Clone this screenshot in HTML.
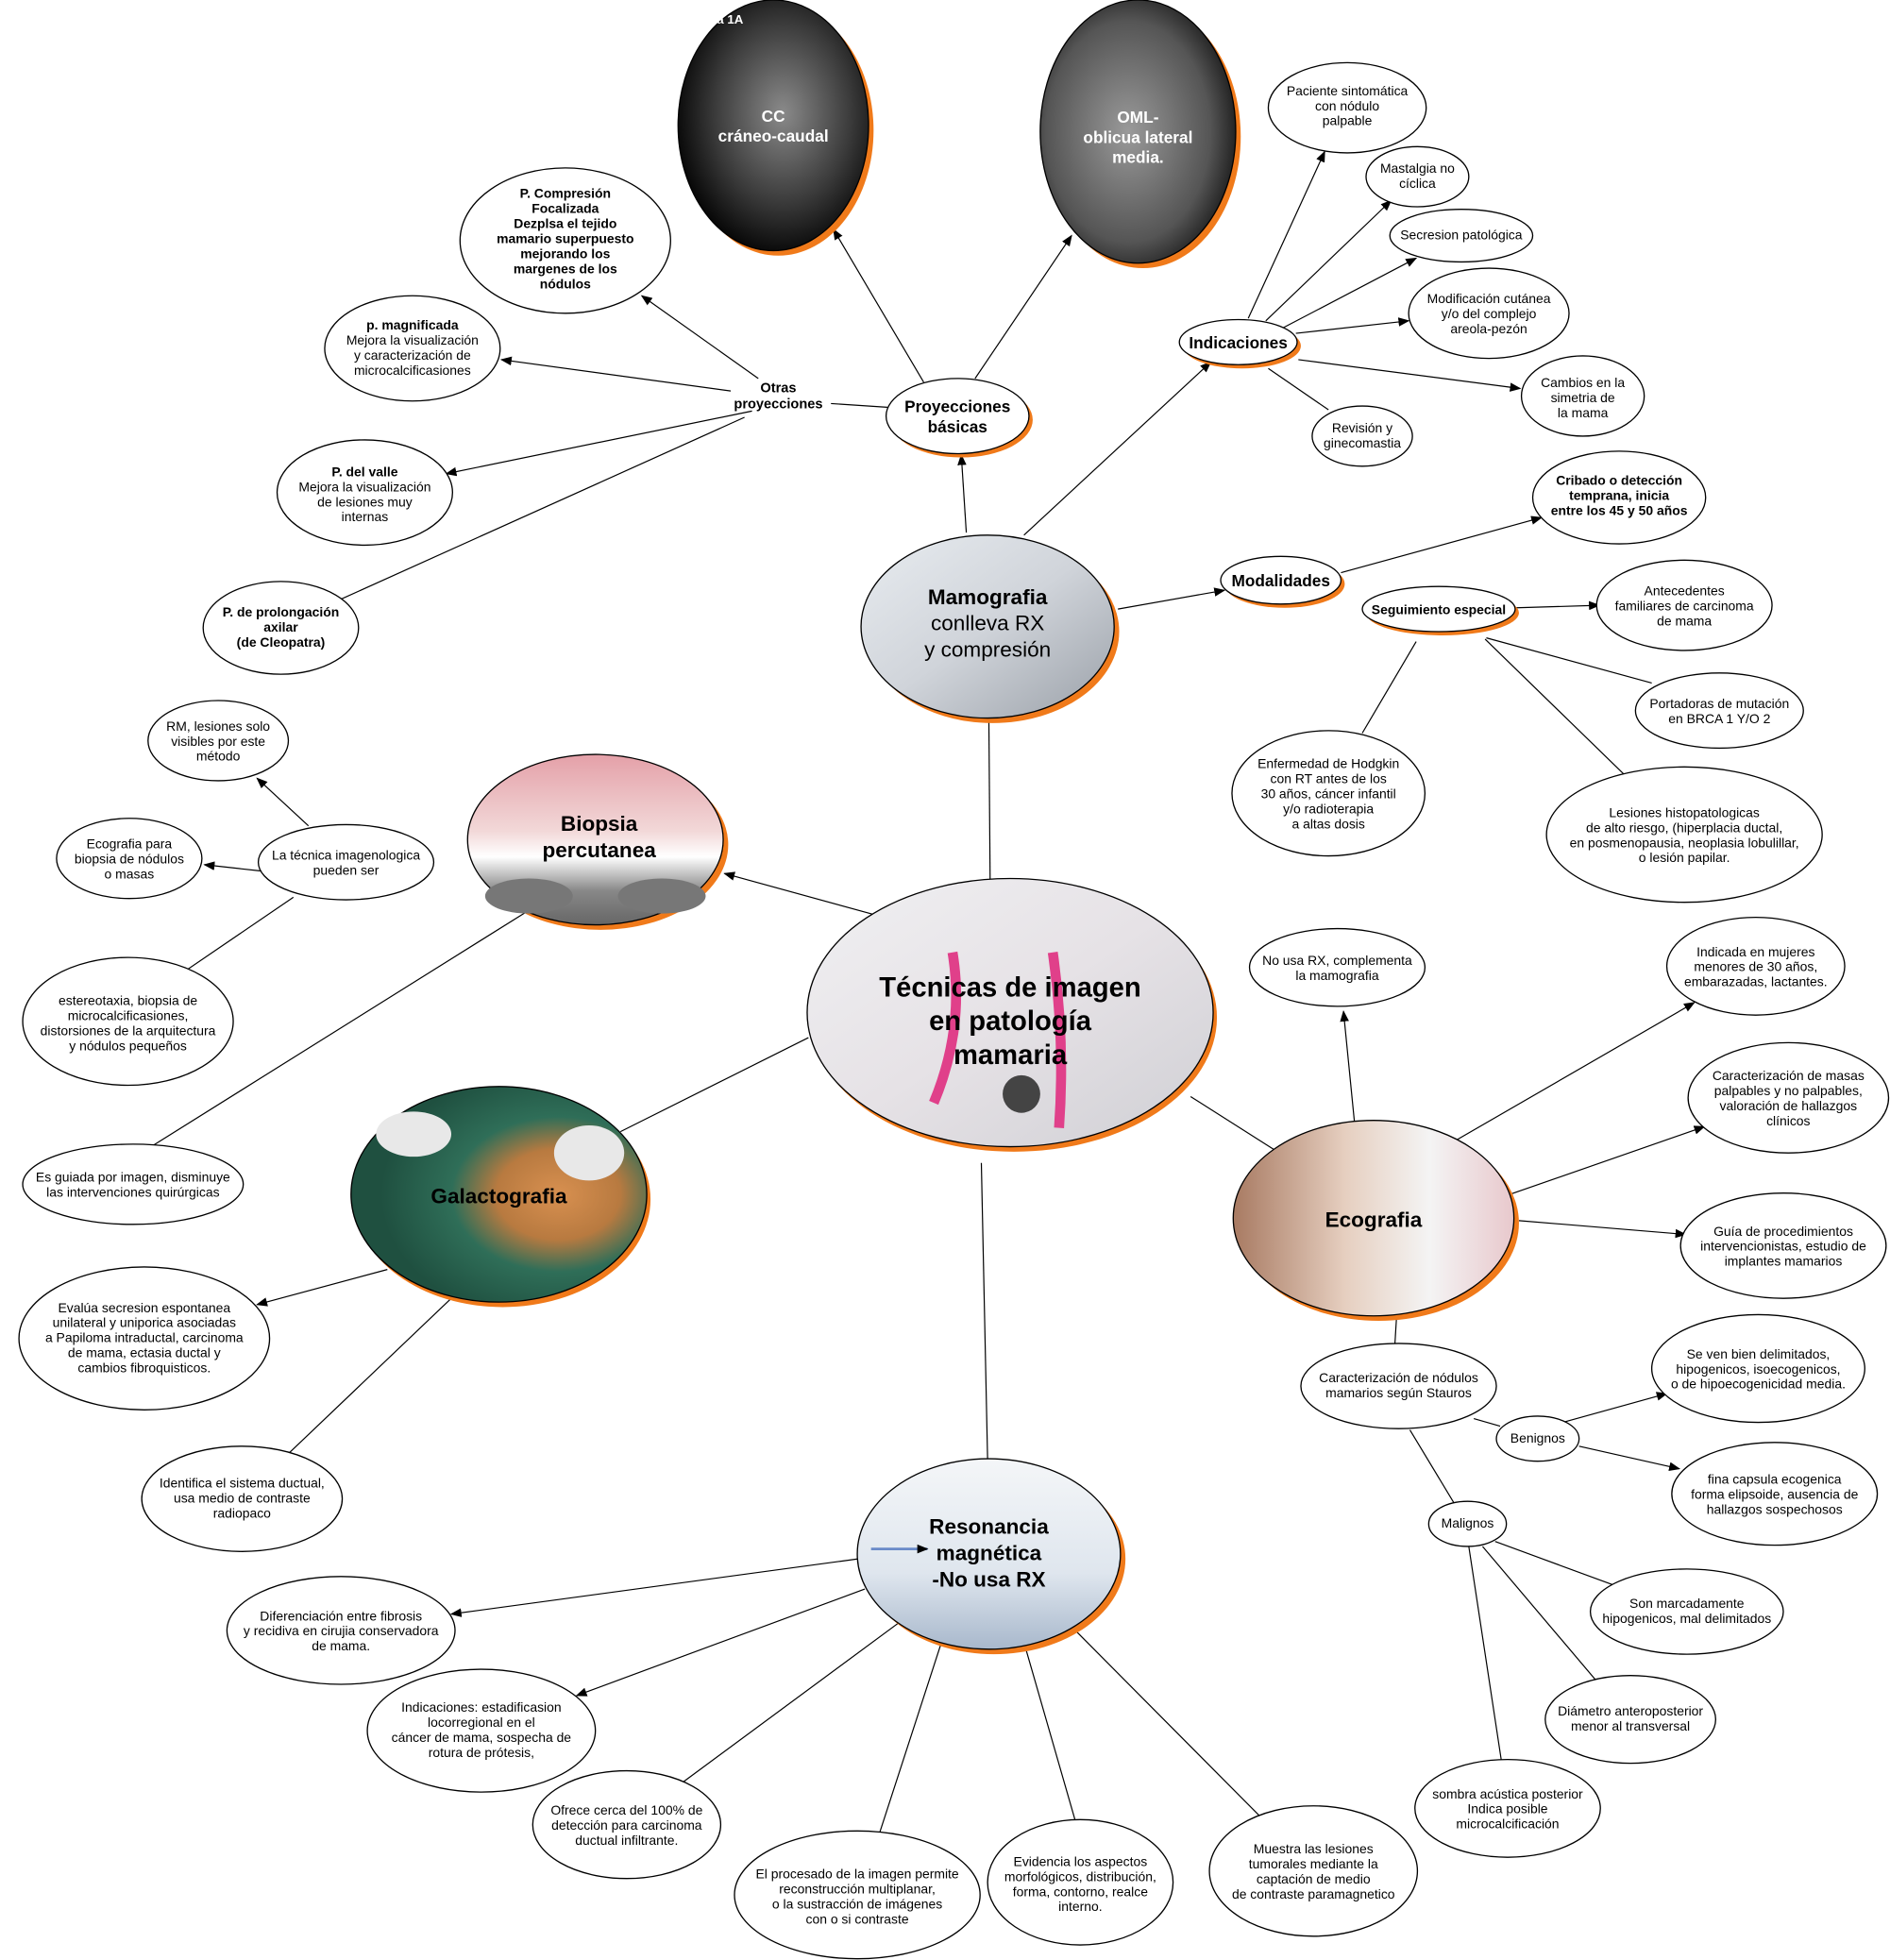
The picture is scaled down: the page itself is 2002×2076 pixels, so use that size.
<!DOCTYPE html>
<html><head><meta charset="utf-8"><style>
html,body{margin:0;padding:0;background:#fff;}
svg{display:block;}
text{font-family:"Liberation Sans",Arial,sans-serif;fill:#000;}
.s{font-size:10.5px;text-anchor:middle;}
.b{font-size:10.5px;text-anchor:middle;font-weight:bold;}
.e{fill:#fff;stroke:#000;stroke-width:1;}
.l{stroke:#000;stroke-width:0.9;fill:none;}
.a{stroke:#000;stroke-width:0.9;fill:none;marker-end:url(#ar);}
.o{fill:#f07a1a;}
</style></head><body>
<svg width="2002" height="2076" viewBox="0 0 1508 1564" xmlns="http://www.w3.org/2000/svg">
<defs>
<marker id="ar" viewBox="0 0 10 10" refX="9" refY="5" markerWidth="9" markerHeight="9" orient="auto" markerUnits="userSpaceOnUse"><path d="M0,1 L10,5 L0,9 z" fill="#000"/></marker>
<radialGradient id="gcc" cx="0.55" cy="0.45" r="0.6"><stop offset="0" stop-color="#8a8a8a"/><stop offset="0.6" stop-color="#3a3a3a"/><stop offset="1" stop-color="#000"/></radialGradient>
<radialGradient id="goml" cx="0.45" cy="0.5" r="0.6"><stop offset="0" stop-color="#9a9a9a"/><stop offset="0.7" stop-color="#555"/><stop offset="1" stop-color="#111"/></radialGradient>
<linearGradient id="gmam" x1="0" y1="0" x2="1" y2="1"><stop offset="0" stop-color="#e8ecf0"/><stop offset="0.5" stop-color="#d0d4da"/><stop offset="1" stop-color="#9aa0a8"/></linearGradient>
<linearGradient id="gbio" x1="0" y1="0" x2="0" y2="1"><stop offset="0" stop-color="#e4a0a8"/><stop offset="0.45" stop-color="#f2d8d8"/><stop offset="0.6" stop-color="#ffffff"/><stop offset="0.8" stop-color="#888"/><stop offset="1" stop-color="#666"/></linearGradient>
<linearGradient id="gcen" x1="0" y1="0" x2="1" y2="1"><stop offset="0" stop-color="#f0f0f2"/><stop offset="0.5" stop-color="#e6e2e6"/><stop offset="1" stop-color="#cfcfd4"/></linearGradient>
<radialGradient id="ggal" cx="0.7" cy="0.5" r="0.6"><stop offset="0" stop-color="#d89050"/><stop offset="0.35" stop-color="#b87a40"/><stop offset="0.6" stop-color="#2f6e58"/><stop offset="1" stop-color="#1f5040"/></radialGradient>
<linearGradient id="geco" x1="0" y1="0" x2="1" y2="0"><stop offset="0" stop-color="#a87a62"/><stop offset="0.4" stop-color="#e6cfc0"/><stop offset="0.7" stop-color="#f4f4f4"/><stop offset="1" stop-color="#e8c8cc"/></linearGradient>
<linearGradient id="grm" x1="0" y1="0" x2="0" y2="1"><stop offset="0" stop-color="#f4f6f8"/><stop offset="0.6" stop-color="#dfe6ee"/><stop offset="1" stop-color="#a8b8cc"/></linearGradient>
</defs>

<!-- connectors -->
<line class="a" x1="737" y1="305" x2="665" y2="183"/>
<line class="a" x1="778" y1="302" x2="855" y2="188"/>
<line class="a" x1="771" y1="425" x2="767" y2="363"/>
<line class="a" x1="817" y1="427" x2="966" y2="289"/>
<line class="l" x1="708" y1="325" x2="663" y2="322"/>
<line class="a" x1="605" y1="302" x2="512" y2="236"/>
<line class="a" x1="583" y1="312" x2="400" y2="287"/>
<line class="a" x1="600" y1="328" x2="356" y2="378"/>
<line class="l" x1="594" y1="333" x2="270" y2="479"/>
<line class="a" x1="996" y1="254" x2="1057" y2="121"/>
<line class="a" x1="1010" y1="256" x2="1110" y2="160"/>
<line class="a" x1="1023" y1="262" x2="1130" y2="206"/>
<line class="a" x1="1034" y1="266" x2="1124" y2="256"/>
<line class="a" x1="1036" y1="287" x2="1213" y2="310"/>
<line class="l" x1="1012" y1="294" x2="1060" y2="327"/>
<line class="a" x1="892" y1="486" x2="977" y2="471"/>
<line class="a" x1="1070" y1="457" x2="1230" y2="413"/>
<line class="a" x1="1210" y1="485" x2="1276" y2="483"/>
<line class="l" x1="1186" y1="509" x2="1318" y2="545"/>
<line class="l" x1="1185" y1="510" x2="1296" y2="618"/>
<line class="l" x1="1130" y1="512" x2="1087" y2="585"/>
<line class="l" x1="790" y1="702" x2="789" y2="573"/>
<line class="a" x1="698" y1="730" x2="578" y2="697"/>
<line class="a" x1="246" y1="659" x2="205" y2="621"/>
<line class="a" x1="208" y1="695" x2="163" y2="690"/>
<line class="l" x1="234" y1="716" x2="143" y2="778"/>
<line class="l" x1="421" y1="727" x2="122" y2="914"/>
<line class="l" x1="645" y1="828" x2="495" y2="903"/>
<line class="a" x1="309" y1="1013" x2="205" y2="1041"/>
<line class="l" x1="360" y1="1036" x2="230" y2="1160"/>
<line class="l" x1="950" y1="875" x2="1024" y2="922"/>
<line class="a" x1="1082" y1="908" x2="1072" y2="807"/>
<line class="a" x1="1153" y1="915" x2="1352" y2="800"/>
<line class="a" x1="1205" y1="953" x2="1360" y2="899"/>
<line class="a" x1="1212" y1="974" x2="1345" y2="985"/>
<line class="l" x1="1115" y1="1040" x2="1113" y2="1073"/>
<line class="l" x1="1176" y1="1132" x2="1197" y2="1138"/>
<line class="a" x1="1247" y1="1135" x2="1330" y2="1112"/>
<line class="a" x1="1260" y1="1154" x2="1340" y2="1172"/>
<line class="l" x1="1125" y1="1141" x2="1160" y2="1199"/>
<line class="l" x1="1193" y1="1230" x2="1288" y2="1265"/>
<line class="l" x1="1183" y1="1234" x2="1277" y2="1345"/>
<line class="l" x1="1172" y1="1234" x2="1198" y2="1405"/>
<line class="l" x1="783" y1="928" x2="788" y2="1165"/>
<line class="a" x1="684" y1="1244" x2="360" y2="1288"/>
<line class="a" x1="690" y1="1268" x2="460" y2="1353"/>
<line class="l" x1="717" y1="1295" x2="545" y2="1422"/>
<line class="l" x1="752" y1="1308" x2="702" y2="1462"/>
<line class="l" x1="818" y1="1314" x2="858" y2="1453"/>
<line class="l" x1="857" y1="1300" x2="1008" y2="1452"/>

<!-- photo nodes -->
<ellipse class="o" cx="621" cy="104" rx="76" ry="100"/>
<ellipse cx="617" cy="100" rx="76" ry="100" fill="url(#gcc)" stroke="#000"/>
<text x="568" y="19" style="font-size:10px;font-weight:bold;fill:#fff">ra 1A</text>
<text x="617" y="97" class="b" style="fill:#fff;font-size:13px">CC</text>
<text x="617" y="113" class="b" style="fill:#fff;font-size:13px">cráneo-caudal</text>

<ellipse class="o" cx="912" cy="109" rx="78" ry="105"/>
<ellipse cx="908" cy="105" rx="78" ry="105" fill="url(#goml)" stroke="#000"/>
<text x="908" y="98" class="b" style="fill:#fff;font-size:13px">OML-</text>
<text x="908" y="114" class="b" style="fill:#fff;font-size:13px">oblicua lateral</text>
<text x="908" y="130" class="b" style="fill:#fff;font-size:13px">media.</text>

<ellipse class="o" cx="792" cy="504" rx="101" ry="73"/>
<ellipse cx="788" cy="500" rx="101" ry="73" fill="url(#gmam)" stroke="#000"/>
<text x="788" y="482" class="b" style="font-size:17px">Mamografia</text>
<text x="788" y="503" class="s" style="font-size:17px">conlleva RX</text>
<text x="788" y="524" class="s" style="font-size:17px">y compresión</text>

<ellipse class="o" cx="479" cy="674" rx="102" ry="68"/>
<ellipse cx="475" cy="670" rx="102" ry="68" fill="url(#gbio)" stroke="#000"/>
<ellipse cx="422" cy="715" rx="35" ry="14" fill="#777"/>
<ellipse cx="528" cy="715" rx="35" ry="14" fill="#777"/>
<text x="478" y="663" class="b" style="font-size:17px">Biopsia</text>
<text x="478" y="684" class="b" style="font-size:17px">percutanea</text>

<ellipse class="o" cx="809" cy="812" rx="162" ry="107"/>
<ellipse cx="806" cy="808" rx="162" ry="107" fill="url(#gcen)" stroke="#000"/>
<path d="M760 760 Q770 820 745 880" stroke="#e0408a" stroke-width="8" fill="none"/>
<path d="M840 760 Q850 830 845 900" stroke="#e0408a" stroke-width="8" fill="none"/>
<circle cx="815" cy="873" r="15" fill="#444"/>
<text x="806" y="795" class="b" style="font-size:22px">Técnicas de imagen</text>
<text x="806" y="822" class="b" style="font-size:22px">en patología</text>
<text x="806" y="849" class="b" style="font-size:22px">mamaria</text>

<ellipse class="o" cx="401" cy="957" rx="118" ry="86"/>
<ellipse cx="398" cy="953" rx="118" ry="86" fill="url(#ggal)" stroke="#000"/>
<ellipse cx="330" cy="905" rx="30" ry="18" fill="#e8e8e8"/>
<ellipse cx="470" cy="920" rx="28" ry="22" fill="#e8e8e8"/>
<text x="398" y="960" class="b" style="font-size:17px">Galactografia</text>

<ellipse class="o" cx="1100" cy="976" rx="112" ry="78"/>
<ellipse cx="1096" cy="972" rx="112" ry="78" fill="url(#geco)" stroke="#000"/>
<text x="1096" y="979" class="b" style="font-size:17px">Ecografia</text>

<ellipse class="o" cx="793" cy="1244" rx="105" ry="76"/>
<ellipse cx="789" cy="1240" rx="105" ry="76" fill="url(#grm)" stroke="#000"/>
<path d="M695 1236 L740 1236" stroke="#6a8ac8" stroke-width="2" marker-end="url(#ar)"/>
<text x="789" y="1224" class="b" style="font-size:17px">Resonancia</text>
<text x="789" y="1245" class="b" style="font-size:17px">magnética</text>
<text x="789" y="1266" class="b" style="font-size:17px">-No usa RX</text>

<!-- small labelled nodes with shadow -->
<ellipse class="o" cx="767" cy="335" rx="57" ry="30"/>
<ellipse class="e" cx="764" cy="332" rx="57" ry="30"/>
<text x="764" y="329" class="b" style="font-size:13px">Proyecciones</text>
<text x="764" y="345" class="b" style="font-size:13px">básicas</text>

<ellipse class="o" cx="991" cy="276" rx="47" ry="18"/>
<ellipse class="e" cx="988" cy="273" rx="47" ry="18"/>
<text x="988" y="278" class="b" style="font-size:13px">Indicaciones</text>

<ellipse class="o" cx="1025" cy="466" rx="48" ry="19"/>
<ellipse class="e" cx="1022" cy="463" rx="48" ry="19"/>
<text x="1022" y="468" class="b" style="font-size:13px">Modalidades</text>

<ellipse class="o" cx="1151" cy="489" rx="61" ry="18"/>
<ellipse class="e" cx="1148" cy="486" rx="61" ry="18"/>
<text x="1148" y="490" class="b">Seguimiento especial</text>

<text x="621" y="313" class="b" style="font-size:11px">Otras</text>
<text x="621" y="326" class="b" style="font-size:11px">proyecciones</text>

<!-- plain text nodes -->
<ellipse class="e" cx="451" cy="192" rx="84" ry="58"/>
<text class="b" x="451" y="158">P. Compresión</text><text class="b" x="451" y="170">Focalizada</text><text class="b" x="451" y="182">Dezplsa el tejido</text><text class="b" x="451" y="194">mamario superpuesto</text><text class="b" x="451" y="206">mejorando los</text><text class="b" x="451" y="218">margenes de los</text><text class="b" x="451" y="230">nódulos</text>

<ellipse class="e" cx="329" cy="278" rx="70" ry="42"/>
<text class="b" x="329" y="263">p. magnificada</text><text class="s" x="329" y="275">Mejora la visualización</text><text class="s" x="329" y="287">y caracterización de</text><text class="s" x="329" y="299">microcalcificasiones</text>

<ellipse class="e" cx="291" cy="393" rx="70" ry="42"/>
<text class="b" x="291" y="380">P. del valle</text><text class="s" x="291" y="392">Mejora la visualización</text><text class="s" x="291" y="404">de lesiones muy</text><text class="s" x="291" y="416">internas</text>

<ellipse class="e" cx="224" cy="501" rx="62" ry="37"/>
<text class="b" x="224" y="492">P. de prolongación</text><text class="b" x="224" y="504">axilar</text><text class="b" x="224" y="516">(de Cleopatra)</text>

<ellipse class="e" cx="1075" cy="86" rx="63" ry="36"/>
<text class="s" x="1075" y="76">Paciente sintomática</text><text class="s" x="1075" y="88">con nódulo</text><text class="s" x="1075" y="100">palpable</text>

<ellipse class="e" cx="1131" cy="141" rx="41" ry="24"/>
<text class="s" x="1131" y="138">Mastalgia no</text><text class="s" x="1131" y="150">cíclica</text>

<ellipse class="e" cx="1166" cy="188" rx="57" ry="21"/>
<text class="s" x="1166" y="191">Secresion patológica</text>

<ellipse class="e" cx="1188" cy="250" rx="64" ry="36"/>
<text class="s" x="1188" y="242">Modificación cutánea</text><text class="s" x="1188" y="254">y/o del complejo</text><text class="s" x="1188" y="266">areola-pezón</text>

<ellipse class="e" cx="1263" cy="316" rx="49" ry="32"/>
<text class="s" x="1263" y="309">Cambios en la</text><text class="s" x="1263" y="321">simetria de</text><text class="s" x="1263" y="333">la mama</text>

<ellipse class="e" cx="1087" cy="348" rx="40" ry="24"/>
<text class="s" x="1087" y="345">Revisión y</text><text class="s" x="1087" y="357">ginecomastia</text>

<ellipse class="e" cx="1292" cy="397" rx="69" ry="37"/>
<text class="b" x="1292" y="387">Cribado o detección</text><text class="b" x="1292" y="399">temprana, inicia</text><text class="b" x="1292" y="411">entre los 45 y 50 años</text>

<ellipse class="e" cx="1344" cy="483" rx="70" ry="36"/>
<text class="s" x="1344" y="475">Antecedentes</text><text class="s" x="1344" y="487">familiares de carcinoma</text><text class="s" x="1344" y="499">de mama</text>

<ellipse class="e" cx="1372" cy="567" rx="67" ry="30"/>
<text class="s" x="1372" y="565">Portadoras de mutación</text><text class="s" x="1372" y="577">en BRCA 1 Y/O 2</text>

<ellipse class="e" cx="1060" cy="633" rx="77" ry="50"/>
<text class="s" x="1060" y="613">Enfermedad de Hodgkin</text><text class="s" x="1060" y="625">con RT antes de los</text><text class="s" x="1060" y="637">30 años, cáncer infantil</text><text class="s" x="1060" y="649">y/o radioterapia</text><text class="s" x="1060" y="661">a altas dosis</text>

<ellipse class="e" cx="1344" cy="666" rx="110" ry="54"/>
<text class="s" x="1344" y="652">Lesiones histopatologicas</text><text class="s" x="1344" y="664">de alto riesgo, (hiperplacia ductal,</text><text class="s" x="1344" y="676">en posmenopausia, neoplasia lobulillar,</text><text class="s" x="1344" y="688">o lesión papilar.</text>

<ellipse class="e" cx="174" cy="591" rx="56" ry="32"/>
<text class="s" x="174" y="583">RM, lesiones solo</text><text class="s" x="174" y="595">visibles por este</text><text class="s" x="174" y="607">método</text>

<ellipse class="e" cx="103" cy="685" rx="58" ry="32"/>
<text class="s" x="103" y="677">Ecografia para</text><text class="s" x="103" y="689">biopsia de nódulos</text><text class="s" x="103" y="701">o masas</text>

<ellipse class="e" cx="276" cy="688" rx="70" ry="30"/>
<text class="s" x="276" y="686">La técnica imagenologica</text><text class="s" x="276" y="698">pueden ser</text>

<ellipse class="e" cx="102" cy="815" rx="84" ry="51"/>
<text class="s" x="102" y="802">estereotaxia, biopsia de</text><text class="s" x="102" y="814">microcalcificasiones,</text><text class="s" x="102" y="826">distorsiones de la arquitectura</text><text class="s" x="102" y="838">y nódulos pequeños</text>

<ellipse class="e" cx="106" cy="945" rx="88" ry="32"/>
<text class="s" x="106" y="943">Es guiada por imagen, disminuye</text><text class="s" x="106" y="955">las intervenciones quirúrgicas</text>

<ellipse class="e" cx="115" cy="1068" rx="100" ry="57"/>
<text class="s" x="115" y="1047">Evalúa secresion espontanea</text><text class="s" x="115" y="1059">unilateral y uniporica asociadas</text><text class="s" x="115" y="1071">a Papiloma intraductal, carcinoma</text><text class="s" x="115" y="1083">de mama, ectasia ductal y</text><text class="s" x="115" y="1095">cambios fibroquisticos.</text>

<ellipse class="e" cx="193" cy="1196" rx="80" ry="42"/>
<text class="s" x="193" y="1187">Identifica el sistema ductual,</text><text class="s" x="193" y="1199">usa medio de contraste</text><text class="s" x="193" y="1211">radiopaco</text>

<ellipse class="e" cx="1067" cy="772" rx="70" ry="31"/>
<text class="s" x="1067" y="770">No usa RX, complementa</text><text class="s" x="1067" y="782">la mamografia</text>

<ellipse class="e" cx="1401" cy="771" rx="71" ry="39"/>
<text class="s" x="1401" y="763">Indicada en mujeres</text><text class="s" x="1401" y="775">menores de 30 años,</text><text class="s" x="1401" y="787">embarazadas, lactantes.</text>

<ellipse class="e" cx="1427" cy="876" rx="80" ry="44"/>
<text class="s" x="1427" y="862">Caracterización de masas</text><text class="s" x="1427" y="874">palpables y no palpables,</text><text class="s" x="1427" y="886">valoración de hallazgos</text><text class="s" x="1427" y="898">clínicos</text>

<ellipse class="e" cx="1423" cy="994" rx="82" ry="42"/>
<text class="s" x="1423" y="986">Guía de procedimientos</text><text class="s" x="1423" y="998">intervencionistas, estudio de</text><text class="s" x="1423" y="1010">implantes mamarios</text>

<ellipse class="e" cx="1116" cy="1106" rx="78" ry="34"/>
<text class="s" x="1116" y="1103">Caracterización de nódulos</text><text class="s" x="1116" y="1115">mamarios según Stauros</text>

<ellipse class="e" cx="1403" cy="1092" rx="85" ry="43"/>
<text class="s" x="1403" y="1084">Se ven bien delimitados,</text><text class="s" x="1403" y="1096">hipogenicos, isoecogenicos,</text><text class="s" x="1403" y="1108">o de hipoecogenicidad media.</text>

<ellipse class="e" cx="1227" cy="1148" rx="33" ry="18"/>
<text class="s" x="1227" y="1151">Benignos</text>

<ellipse class="e" cx="1416" cy="1192" rx="82" ry="41"/>
<text class="s" x="1416" y="1184">fina capsula ecogenica</text><text class="s" x="1416" y="1196">forma elipsoide, ausencia de</text><text class="s" x="1416" y="1208">hallazgos sospechosos</text>

<ellipse class="e" cx="1171" cy="1216" rx="31" ry="18"/>
<text class="s" x="1171" y="1219">Malignos</text>

<ellipse class="e" cx="1346" cy="1286" rx="77" ry="34"/>
<text class="s" x="1346" y="1283">Son marcadamente</text><text class="s" x="1346" y="1295">hipogenicos, mal delimitados</text>

<ellipse class="e" cx="1301" cy="1372" rx="68" ry="35"/>
<text class="s" x="1301" y="1369">Diámetro anteroposterior</text><text class="s" x="1301" y="1381">menor al transversal</text>

<ellipse class="e" cx="1203" cy="1443" rx="74" ry="39"/>
<text class="s" x="1203" y="1435">sombra acústica posterior</text><text class="s" x="1203" y="1447">Indica posible</text><text class="s" x="1203" y="1459">microcalcificación</text>

<ellipse class="e" cx="272" cy="1301" rx="91" ry="43"/>
<text class="s" x="272" y="1293">Diferenciación entre fibrosis</text><text class="s" x="272" y="1305">y recidiva en cirujia conservadora</text><text class="s" x="272" y="1317">de mama.</text>

<ellipse class="e" cx="384" cy="1381" rx="91" ry="49"/>
<text class="s" x="384" y="1366">Indicaciones: estadificasion</text><text class="s" x="384" y="1378">locorregional en el</text><text class="s" x="384" y="1390">cáncer de mama, sospecha de</text><text class="s" x="384" y="1402">rotura de prótesis,</text>

<ellipse class="e" cx="500" cy="1456" rx="75" ry="43"/>
<text class="s" x="500" y="1448">Ofrece cerca del 100% de</text><text class="s" x="500" y="1460">detección para carcinoma</text><text class="s" x="500" y="1472">ductual infiltrante.</text>

<ellipse class="e" cx="684" cy="1512" rx="98" ry="51"/>
<text class="s" x="684" y="1499">El procesado de la imagen permite</text><text class="s" x="684" y="1511">reconstrucción multiplanar,</text><text class="s" x="684" y="1523">o la sustracción de imágenes</text><text class="s" x="684" y="1535">con o si contraste</text>

<ellipse class="e" cx="862" cy="1502" rx="74" ry="50"/>
<text class="s" x="862" y="1489">Evidencia los aspectos</text><text class="s" x="862" y="1501">morfológicos, distribución,</text><text class="s" x="862" y="1513">forma, contorno, realce</text><text class="s" x="862" y="1525">interno.</text>

<ellipse class="e" cx="1048" cy="1493" rx="83" ry="52"/>
<text class="s" x="1048" y="1479">Muestra las lesiones</text><text class="s" x="1048" y="1491">tumorales mediante la</text><text class="s" x="1048" y="1503">captación de medio</text><text class="s" x="1048" y="1515">de contraste paramagnetico</text>
</svg>
</body></html>
